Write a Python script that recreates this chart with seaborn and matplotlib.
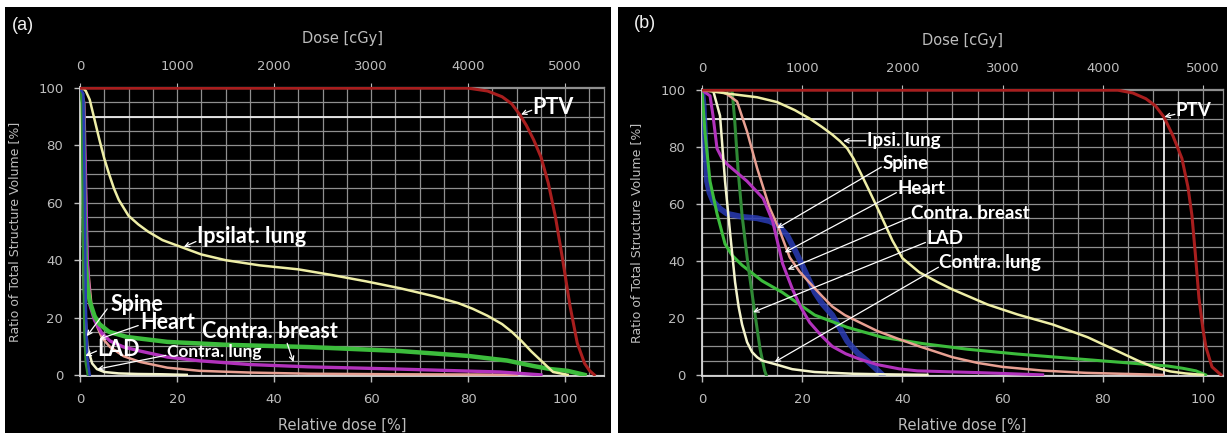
import matplotlib
matplotlib.use("Agg")
import matplotlib.pyplot as plt
from matplotlib.patches import Rectangle
from matplotlib.ticker import MultipleLocator
import seaborn as sns

# ---------------- data: panel (a) ----------------
a_ptv_x = [0, 80, 84, 87, 89, 90.7, 92, 93.5, 95, 96.5, 98, 99.5, 101, 102.5, 104, 105, 106]
a_ptv_y = [100, 100, 99, 97, 94.5, 90.6, 87, 82, 76, 67, 55, 40, 24, 11, 4, 1.5, 0]
a_ipsi_x = [0, 0.6, 1.2, 2, 3, 4, 5, 6, 7, 8, 10, 12, 14, 17, 21, 25, 30, 37, 45, 52, 59, 66, 73, 78, 81, 84, 87, 89, 91, 93, 95, 97.5, 100.5]
a_ipsi_y = [100, 100, 99, 96, 89, 82, 75.5, 70, 65, 61, 55.5, 52.5, 50, 47, 44.5, 42, 40, 38.2, 36.8, 34.8, 32.6, 30.2, 27.4, 25, 23, 20.6, 17.7, 15, 11.8, 8.2, 5, 1, 0]
a_green_x = [0, 0.6, 0.9, 1.2, 1.6, 2, 3, 4, 6, 9.7, 18, 30, 47, 66, 80, 88, 93.4, 97, 100.5, 104]
a_green_y = [100, 95, 60, 38, 30, 25.7, 20.5, 17.7, 15, 13.2, 11.5, 10.5, 9.7, 8.3, 6.6, 5, 3.1, 2, 1.4, 0]
a_spine_x = [0, 0.7, 1.0, 1.2, 1.5, 2.0]
a_spine_y = [100, 98, 60, 25, 6, 0]
a_lad_x = [0, 0.4, 0.6, 0.9, 1.2, 1.6]
a_lad_y = [100, 96, 50, 15, 4, 0]
a_heart_x = [0, 0.8, 1.5, 2.4, 3.5, 4.5, 6.2, 9, 12.4, 18, 24.7, 35, 47, 65, 82, 90]
a_heart_y = [100, 95, 40, 23.6, 17, 13, 9.7, 6.5, 4.5, 2.5, 1.4, 0.8, 0.4, 0.2, 0.1, 0]
a_cbreast_x = [0, 0.8, 1.5, 2, 3, 4.5, 6.2, 9, 12.4, 18, 24.7, 35, 47, 66, 86.6, 95]
a_cbreast_y = [100, 95, 40, 24.6, 19, 14.5, 11.8, 9.7, 8.3, 6.2, 4.9, 3.6, 2.8, 2, 1, 0]
a_clung_x = [0, 0.3, 0.8, 1.5, 2.5, 3.5, 5, 8, 12, 17, 22]
a_clung_y = [100, 80, 30, 10, 4, 2, 1, 0.5, 0.3, 0.2, 0]
a_ref_x = [0.6, 90.7, 90.7]
a_ref_y = [90, 90, 0]

# ---------------- data: panel (b) ----------------
b_ptv_x = [0, 83, 86, 88.6, 90.5, 92.2, 94, 95.8, 97, 97.8, 98.5, 99.2, 100, 100.6, 101.8, 103.6]
b_ptv_y = [100, 100, 99, 97, 94.5, 90.6, 84, 76, 66, 56, 42, 27, 16, 9.7, 2.8, 0]
b_ipsi_x = [0, 6, 11, 15, 18.5, 21.5, 24, 26, 27.6, 29, 30.3, 31.5, 33.3, 35, 36.6, 38, 40, 43.4, 47, 50, 57, 63, 70, 77, 83, 87, 90, 93.5, 96.5, 100]
b_ipsi_y = [100, 98.6, 97.5, 95.8, 93, 90, 87, 84.4, 82, 79.5, 75.8, 71.5, 65, 58.7, 52.6, 47.2, 41, 36, 32.6, 30, 24.7, 21.2, 17.7, 13.2, 8.3, 5, 2.8, 1.2, 0.5, 0]
b_spine_x = [0, 0.3, 0.7, 1, 1.5, 2.2, 3.5, 5, 8, 11, 13.5, 15.5, 17, 18.5, 20, 22.5, 24, 26, 27.5, 29, 31, 33, 34.5, 36]
b_spine_y = [100, 95, 80, 68, 64, 61, 58.5, 56.6, 55.5, 55, 54, 52, 49, 44, 38.5, 29, 25, 21, 16.5, 11.8, 7.8, 4.9, 2.5, 0]
b_heart_x = [0, 3, 5, 7, 9, 11, 13.5, 15.5, 17.5, 19.5, 21.5, 24, 26, 28.5, 31.5, 35, 39.4, 43.4, 50, 55, 60, 68, 76.7, 92]
b_heart_y = [100, 100, 98.6, 96, 85.4, 72.6, 58.7, 50.7, 41.3, 36.2, 32.3, 27.6, 24, 21, 18.4, 15.4, 12.5, 10, 6.2, 4.2, 2.8, 1.5, 0.7, 0]
b_cbreast_x = [0, 1.6, 2.2, 3, 4, 5, 7, 9, 12.2, 14.1, 16.1, 18.1, 19.8, 21.5, 23.8, 26, 28.7, 31.5, 35, 39.4, 43, 55, 68]
b_cbreast_y = [100, 98, 91, 79.5, 76, 74, 71, 68, 62, 54, 39, 29.9, 23.5, 18.4, 13.8, 10, 7.4, 5.5, 3.6, 2.1, 1.4, 0.8, 0]
b_lad_x = [0, 6, 6.5, 7.2, 8, 9.2, 10.6, 11.6, 12.5, 12.8]
b_lad_y = [100, 100, 90, 72, 56, 38.5, 21, 9, 1.5, 0]
b_clung_x = [0, 2.2, 3.6, 4.6, 5.6, 6.6, 7.3, 8, 9, 10, 11, 12, 14.5, 18, 22.5, 30, 36, 45]
b_clung_y = [100, 100, 91, 68, 50, 32.6, 24, 17.7, 11.5, 8, 6.2, 5, 3.8, 2, 1, 0.4, 0.2, 0]
b_green_x = [0, 0.6, 1.6, 3, 4.6, 6, 8, 12, 16, 22.5, 29, 36, 44, 53, 63, 80, 93, 96, 98.6, 100.5]
b_green_y = [100, 85, 68, 56.6, 46, 42, 38.5, 33, 29, 21, 16.7, 13.2, 11, 9, 7.3, 4.9, 3.1, 2.3, 1.4, 0]
b_ref_x = [0, 92.2, 92.2]
b_ref_y = [90, 90, 0]

dose_ticks = [0, 1000, 2000, 3000, 4000, 5000]
rel_ticks = [0, 20, 40, 60, 80, 100]
vol_ticks = [0, 20, 40, 60, 80, 100]

# ---------------- styling ----------------
C_PTV = "#a81e1e"
C_IPSI = "#eeeea6"
C_CLUNG = "#f4f4cc"
C_GREEN = "#3cbc3c"
C_LAD = "#2f8a35"
C_SPINE = "#2a3cb4"
C_HEART = "#e8a092"
C_CBREAST = "#b232bc"
C_REF = "#ececec"
TICKC = "#bdbdbd"
GRIDC = "#8f8f8f"

fig = plt.figure(figsize=(12.27, 4.33), dpi=100, facecolor="white")
W, H = 1227, 433
fig.add_artist(Rectangle((5 / W, 0), (611 - 5) / W, (H - 7) / H, transform=fig.transFigure,
                         facecolor="black", edgecolor="none", zorder=-10))
fig.add_artist(Rectangle((618 / W, 0), (W - 618) / W, (H - 7) / H, transform=fig.transFigure,
                         facecolor="black", edgecolor="none", zorder=-10))

ax_a = fig.add_axes([80 / W, (H - 376) / H, (604 - 80) / W, (376 - 87) / H])
ax_b = fig.add_axes([702 / W, (H - 376) / H, (1223 - 702) / W, (376 - 89) / H])


def style_axes(ax, xmax):
    ax.set_facecolor("black")
    ax.set_xlim(0, xmax)
    ax.set_ylim(-0.4, 100.4)
    ax.xaxis.set_minor_locator(MultipleLocator(5))
    ax.yaxis.set_minor_locator(MultipleLocator(5))
    ax.set_xticks(rel_ticks)
    ax.set_yticks(vol_ticks)
    ax.grid(True, which="both", color=GRIDC, lw=0.9, zorder=0)
    ax.set_axisbelow(True)
    ax.tick_params(axis="both", which="major", colors=TICKC, labelsize=9.5, length=4, width=1,
                   pad=8)
    ax.tick_params(axis="both", which="minor", length=0)
    for s in ["top", "right"]:
        ax.spines[s].set_color(GRIDC)
        ax.spines[s].set_linewidth(0.9)
    for s in ["left", "bottom"]:
        ax.spines[s].set_color("#d8d8d8")
        ax.spines[s].set_linewidth(1.3)
    ax.set_xlabel("Relative dose [%]", color=TICKC, fontsize=10.5, labelpad=9)
    ax.set_ylabel("Ratio of Total Structure Volume [%]", color=TICKC, fontsize=9, labelpad=12)
    sec = ax.secondary_xaxis("top", functions=(lambda x: x * 50, lambda d: d / 50))
    sec.set_xticks(dose_ticks)
    sec.tick_params(colors=TICKC, labelsize=9.5, length=3, pad=7)
    sec.spines["top"].set_visible(False)
    sec.set_xlabel("Dose [cGy]", color=TICKC, fontsize=10.5, labelpad=12)


def curve(ax, x, y, c, lw=1.8, alpha=1.0, z=3):
    sns.lineplot(x=x, y=y, sort=False, estimator=None, color=c, lw=lw, alpha=alpha, ax=ax,
                 zorder=z)


style_axes(ax_a, 108)
style_axes(ax_b, 104)

# panel (a)
curve(ax_a, a_ref_x, a_ref_y, C_REF, lw=1.3, z=2)
curve(ax_a, a_clung_x, a_clung_y, C_CLUNG, lw=1.8)
curve(ax_a, a_heart_x, a_heart_y, C_HEART, lw=1.8)
curve(ax_a, a_cbreast_x, a_cbreast_y, C_CBREAST, lw=2.4)
curve(ax_a, a_green_x, a_green_y, C_GREEN, lw=3.2)
curve(ax_a, a_lad_x, a_lad_y, C_LAD, lw=1.8)
curve(ax_a, a_spine_x, a_spine_y, C_SPINE, lw=1.8)
curve(ax_a, a_ipsi_x, a_ipsi_y, C_IPSI, lw=1.8)
curve(ax_a, a_ptv_x, a_ptv_y, C_PTV, lw=2.2)

# panel (b)
curve(ax_b, b_ref_x, b_ref_y, C_REF, lw=1.3, z=2)
curve(ax_b, b_spine_x, b_spine_y, C_SPINE, lw=4.2, alpha=0.85)
curve(ax_b, b_green_x, b_green_y, C_GREEN, lw=2.2)
curve(ax_b, b_lad_x, b_lad_y, C_LAD, lw=2.2)
curve(ax_b, b_heart_x, b_heart_y, C_HEART, lw=1.8)
curve(ax_b, b_cbreast_x, b_cbreast_y, C_CBREAST, lw=2.2)
curve(ax_b, b_clung_x, b_clung_y, C_CLUNG, lw=1.8)
curve(ax_b, b_ipsi_x, b_ipsi_y, C_IPSI, lw=1.8)
curve(ax_b, b_ptv_x, b_ptv_y, C_PTV, lw=2.2)

LBL = dict(color="white", fontweight="bold", family=["Lato", "DejaVu Sans"], ha="left",
           va="center", zorder=6)
ARW = dict(arrowstyle="->", color="white", lw=0.9, shrinkA=0, shrinkB=0,
           mutation_scale=8)


def label(ax, text, pos, start, target, size):
    ax.text(pos[0], pos[1], text, fontsize=size, **LBL)
    ax.annotate("", xy=target, xytext=start, arrowprops=ARW, zorder=6)


# panel (a) labels
label(ax_a, "PTV", (93.3, 93.4), (93.1, 92.3), (90.9, 90.8), 15.5)
label(ax_a, "Ipsilat. lung", (24.1, 48.3), (23.9, 46.5), (21.4, 44.6), 15.5)
label(ax_a, "Spine", (6.2, 24.7), (5.6, 23.0), (1.4, 13.5), 15.5)
label(ax_a, "Heart", (12.4, 18.4), (12.0, 17.2), (4.0, 12.5), 15.5)
label(ax_a, "LAD", (3.5, 9.0), (3.4, 8.3), (1.1, 6.6), 15.5)
label(ax_a, "Contra. lung", (17.9, 8.0), (17.7, 6.8), (3.6, 2.0), 12.5)
label(ax_a, "Contra. breast", (25.2, 15.0), (42.7, 11.0), (44.0, 4.5), 15.5)

# panel (b) labels
label(ax_b, "PTV", (94.6, 92.7), (94.4, 91.5), (92.3, 90.6), 13.5)
label(ax_b, "Ipsi. lung", (33.0, 82.4), (32.7, 82.2), (28.2, 82.2), 13.5)
label(ax_b, "Spine", (36.0, 74.2), (35.8, 73.0), (15.0, 51.5), 13.5)
label(ax_b, "Heart", (39.0, 65.5), (38.8, 64.0), (16.5, 43.0), 13.5)
label(ax_b, "Contra. breast", (41.8, 56.8), (41.6, 55.3), (17.1, 37.0), 13.5)
label(ax_b, "LAD", (44.8, 48.0), (44.6, 46.5), (10.2, 22.0), 13.5)
label(ax_b, "Contra. lung", (47.4, 39.3), (47.2, 37.8), (14.5, 4.5), 13.5)

fig.text(12 / W, 1 - 25 / H, "(a)", color="#f0f0f0", fontsize=13, va="center", ha="left",
         family=["Liberation Sans", "DejaVu Sans"])
fig.text(634 / W, 1 - 24 / H, "(b)", color="#f0f0f0", fontsize=13, va="center", ha="left",
         family=["Liberation Sans", "DejaVu Sans"])

fig.savefig("out.png", dpi=100, facecolor="white")
